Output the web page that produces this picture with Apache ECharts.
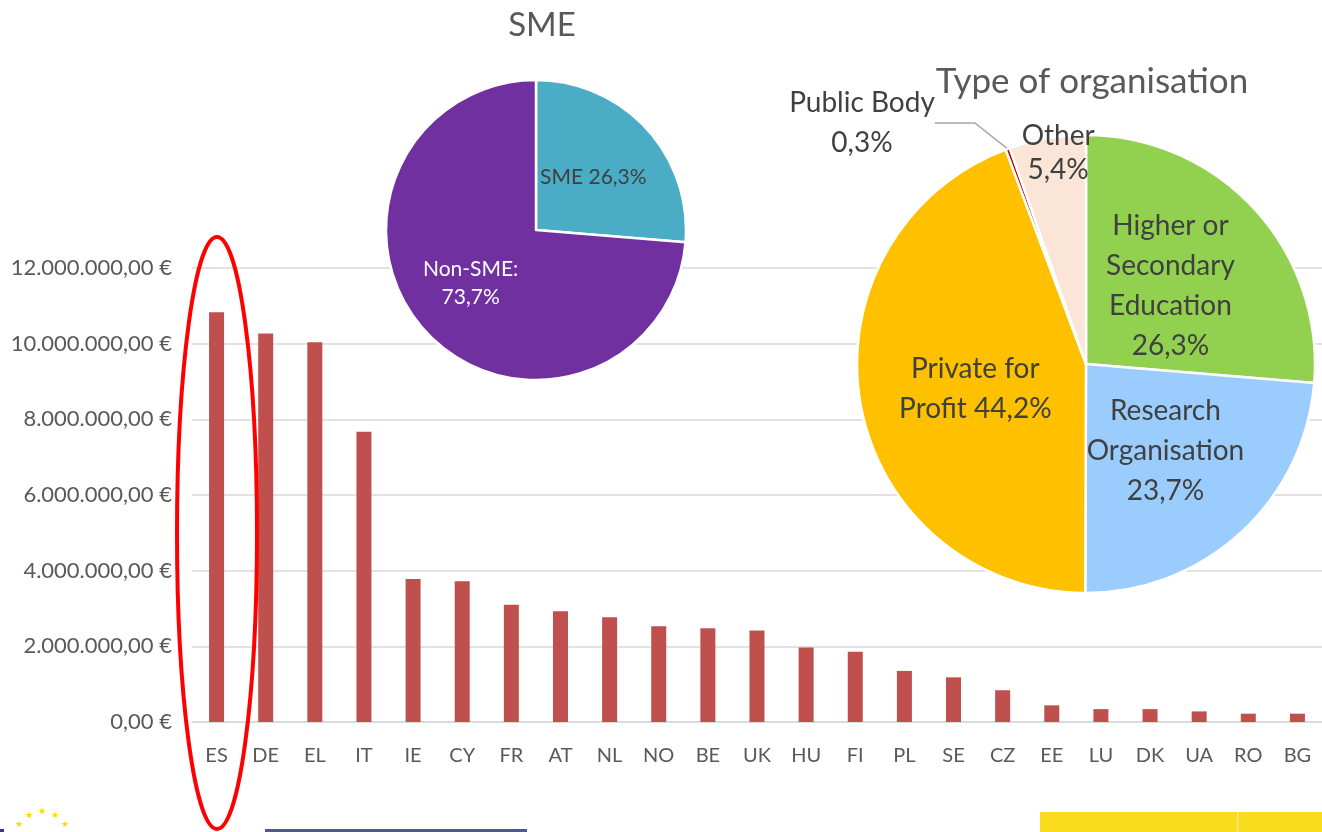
<!DOCTYPE html>
<html>
<head>
<meta charset="utf-8">
<script src="https://cdn.jsdelivr.net/npm/echarts@6/dist/echarts.min.js"></script>
<style>
  html, body { margin: 0; padding: 0; background: #fff; }
  #chart { width: 1322px; height: 832px; }
</style>
</head>
<body>
<div id="chart"></div>
<script>
// funding per country (EUR)
const countries = ['ES', 'DE', 'EL', 'IT', 'IE', 'CY', 'FR', 'AT', 'NL', 'NO', 'BE', 'UK',
  'HU', 'FI', 'PL', 'SE', 'CZ', 'EE', 'LU', 'DK', 'UA', 'RO', 'BG']
const funding = [10830000, 10270000, 10040000, 7670000, 3780000, 3720000, 3100000, 2930000,
  2770000, 2530000, 2480000, 2420000, 1970000, 1860000, 1350000, 1180000, 840000, 440000,
  340000, 340000, 280000, 220000, 220000]
const yTicks = [0, 2000000, 4000000, 6000000, 8000000, 10000000, 12000000]

// SME pie
const smeNames = ['SME', 'Non-SME']
const smeShares = [26.3, 73.7]
const smeLabels = ['SME 26,3%', 'Non-SME:\n73,7%']

// type of organisation pie
const orgNames = ['Higher or Secondary Education', 'Research Organisation', 'Private for Profit', 'Public Body', 'Other']
const orgShares = [26.3, 23.7, 44.2, 0.3, 5.4]
const orgLabels = ['Higher or\nSecondary\nEducation\n26,3%', 'Research\nOrganisation\n23,7%',
  'Private for\nProfit 44,2%', 'Public Body\n0,3%', 'Other\n5,4%']

const fontFam = 'Lato, "Open Sans", sans-serif'
const grey = '#595959'

function euro(v) {
  const s = Math.round(v).toString().replace(/\B(?=(\d{3})+(?!\d))/g, '.')
  return s + ',00 €'
}

var chartDom = document.getElementById('chart')
var myChart = echarts.init(chartDom)

const smeColors = ['#4BACC6', '#7030A0']
const orgColors = ['#92D050', '#9ACCFD', '#FFC000', '#C00000', '#FBE5D6']

// EU flag stars (partial, bottom left)
const stars = []
for (let i = 0; i < 12; i++) {
  const a = i * Math.PI / 6
  stars.push({
    type: 'text',
    style: {
      text: '★', x: 42 + 26 * Math.sin(a), y: 838 - 26 * Math.cos(a),
      fill: '#FFD700', font: '9px sans-serif', align: 'center', verticalAlign: 'middle'
    }
  })
}

var option = {
  animation: false,
  textStyle: { fontFamily: fontFam },
  title: [
    {
      text: 'SME', left: 537, top: 4, textAlign: 'center',
      textStyle: { fontSize: 33, fontWeight: 'normal', color: grey, fontFamily: fontFam }
    },
    {
      text: 'Type of organisation', left: 1087, top: 59, textAlign: 'center',
      textStyle: { fontSize: 35, fontWeight: 'normal', color: grey, fontFamily: fontFam }
    }
  ],
  grid: { left: 192, right: -4, top: 268, bottom: 110, containLabel: false },
  xAxis: {
    type: 'category',
    data: countries,
    axisLine: { lineStyle: { color: '#D9D9D9', width: 1.5 } },
    axisTick: { show: false },
    axisLabel: { color: grey, fontSize: 20, margin: 24, fontFamily: fontFam }
  },
  yAxis: {
    type: 'value',
    min: yTicks[0],
    max: yTicks[yTicks.length - 1],
    interval: yTicks[1] - yTicks[0],
    axisLine: { show: false },
    axisTick: { show: false },
    axisLabel: { color: grey, fontSize: 22, margin: 20, fontFamily: fontFam, formatter: euro },
    splitLine: { lineStyle: { color: '#D9D9D9', width: 1.5 } }
  },
  series: [
    {
      type: 'bar',
      data: funding,
      barWidth: 15,
      itemStyle: { color: '#C0504D' }
    },
    {
      type: 'pie',
      center: [536, 230],
      radius: 150,
      startAngle: 90,
      clockwise: true,
      z: 5,
      itemStyle: { borderColor: '#fff', borderWidth: 2.5 },
      label: {
        position: 'inside', fontSize: 21, lineHeight: 28, fontFamily: fontFam,
        formatter: p => smeLabels[p.dataIndex]
      },
      labelLine: { show: false },
      data: smeNames.map((n, i) => ({
        name: n, value: smeShares[i],
        itemStyle: { color: smeColors[i] },
        label: { color: i === 0 ? '#404040' : '#fff', offset: i === 1 ? [-8, 0] : [0, 0] }
      }))
    },
    {
      type: 'pie',
      center: [1086, 364],
      radius: 229,
      startAngle: 90,
      clockwise: true,
      z: 5,
      itemStyle: { borderColor: '#fff', borderWidth: 2.5 },
      label: {
        position: 'inside', fontSize: 28, lineHeight: 40, color: '#404040', fontFamily: fontFam,
        formatter: p => orgLabels[p.dataIndex]
      },
      labelLine: { show: false },
      labelLayout: function (params) {
        if (params.dataIndex === 3) {
          return { x: 862, y: 123, align: 'center', verticalAlign: 'middle' }
        }
      },
      data: orgNames.map((n, i) => {
        const d = { name: n, value: orgShares[i], itemStyle: { color: orgColors[i] } }
        if (i === 0) d.label = { offset: [-2, 2] }
        if (i === 2) d.label = { offset: [5, 4] }
        if (i === 3) {
          d.label = { position: 'outside' }
          d.labelLine = { show: true, length: 20, length2: 40, lineStyle: { color: '#A6A6A6', width: 1.5 } }
        }
        if (i === 4) d.label = { offset: [-8, -95], lineHeight: 34 }
        return d
      })
    }
  ],
  graphic: [
    {
      type: 'ellipse', z: 100,
      shape: { cx: 217, cy: 533, rx: 40, ry: 296 },
      style: { fill: null, stroke: '#FF0000', lineWidth: 4 }
    },
    { type: 'rect', shape: { x: 1040, y: 812, width: 282, height: 20 }, style: { fill: '#F9DC1C' } },
    { type: 'rect', shape: { x: 1237, y: 812, width: 1.5, height: 20 }, style: { fill: '#FBE98A' } },
    { type: 'rect', shape: { x: 265, y: 829, width: 262, height: 3 }, style: { fill: '#4A5A8A' } },
    { type: 'rect', shape: { x: 0, y: 829, width: 4, height: 3 }, style: { fill: '#2B3A8A' } }
  ].concat(stars)
}

option && myChart.setOption(option)
</script>
</body>
</html>
